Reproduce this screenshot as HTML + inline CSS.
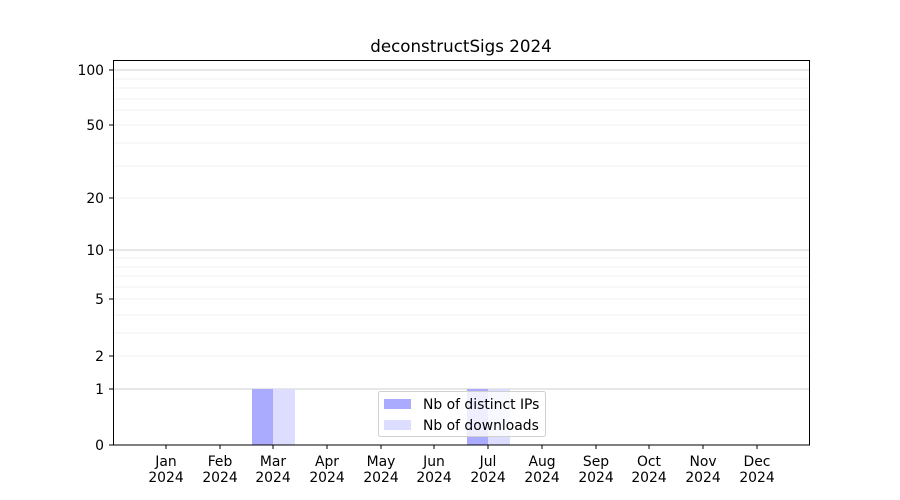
<!DOCTYPE html>
<html><head><meta charset="utf-8"><style>body{margin:0;background:#fff}svg{display:block}text{font-family:"DejaVu Sans","Liberation Sans",sans-serif;font-size:13.9px;fill:#000}</style></head><body>
<svg width="900" height="500" xmlns="http://www.w3.org/2000/svg">
<rect width="900" height="500" fill="#fff"/>
<g stroke="#ebebeb" stroke-width="0.8">
<line x1="113" x2="810" y1="333" y2="333"/><line x1="113" x2="810" y1="315" y2="315"/>
<line x1="113" x2="810" y1="287" y2="287"/><line x1="113" x2="810" y1="276" y2="276"/>
<line x1="113" x2="810" y1="267" y2="267"/><line x1="113" x2="810" y1="258" y2="258"/>
<line x1="113" x2="810" y1="166" y2="166"/><line x1="113" x2="810" y1="143" y2="143"/>
<line x1="113" x2="810" y1="110" y2="110"/><line x1="113" x2="810" y1="99" y2="99"/>
<line x1="113" x2="810" y1="88" y2="88"/><line x1="113" x2="810" y1="79" y2="79"/>
<line x1="113" x2="810" y1="356" y2="356"/><line x1="113" x2="810" y1="299" y2="299"/>
<line x1="113" x2="810" y1="198" y2="198"/><line x1="113" x2="810" y1="125" y2="125"/>
</g>
<g stroke="#cfcfcf" stroke-width="1">
<line x1="113" x2="810" y1="389" y2="389"/><line x1="113" x2="810" y1="250" y2="250"/><line x1="113" x2="810" y1="70" y2="70"/>
</g>
<rect x="252" y="389" width="21" height="56" fill="#aaaaff"/>
<rect x="273" y="389" width="22" height="56" fill="#ddddff"/>
<rect x="467" y="389" width="21" height="56" fill="#aaaaff"/>
<rect x="488" y="389" width="22" height="56" fill="#ddddff"/>
<rect x="113.5" y="60.5" width="696" height="384.5" fill="none" stroke="#000" stroke-width="1"/>
<text x="461" y="52" text-anchor="middle" style="font-size:16.7px">deconstructSigs 2024</text>
<g stroke="#000"><line x1="109" x2="113" y1="445" y2="445"/><line x1="109" x2="113" y1="389" y2="389"/><line x1="109" x2="113" y1="356" y2="356"/><line x1="109" x2="113" y1="299" y2="299"/><line x1="109" x2="113" y1="250" y2="250"/><line x1="109" x2="113" y1="198" y2="198"/><line x1="109" x2="113" y1="125" y2="125"/><line x1="109" x2="113" y1="70" y2="70"/></g>
<g text-anchor="end"><text x="104" y="450">0</text><text x="104" y="394">1</text><text x="104" y="361">2</text><text x="104" y="304">5</text><text x="104" y="255">10</text><text x="104" y="203">20</text><text x="104" y="130">50</text><text x="104" y="75">100</text></g>
<g stroke="#000">
<line x1="166" x2="166" y1="445" y2="449"/><line x1="220" x2="220" y1="445" y2="449"/><line x1="273" x2="273" y1="445" y2="449"/><line x1="327" x2="327" y1="445" y2="449"/><line x1="381" x2="381" y1="445" y2="449"/><line x1="434" x2="434" y1="445" y2="449"/><line x1="488" x2="488" y1="445" y2="449"/><line x1="542" x2="542" y1="445" y2="449"/><line x1="596" x2="596" y1="445" y2="449"/><line x1="649" x2="649" y1="445" y2="449"/><line x1="703" x2="703" y1="445" y2="449"/><line x1="757" x2="757" y1="445" y2="449"/>
</g>
<g text-anchor="middle">
<text x="166" y="466">Jan</text><text x="166" y="482">2024</text>
<text x="220" y="466">Feb</text><text x="220" y="482">2024</text>
<text x="273" y="466">Mar</text><text x="273" y="482">2024</text>
<text x="327" y="466">Apr</text><text x="327" y="482">2024</text>
<text x="381" y="466">May</text><text x="381" y="482">2024</text>
<text x="434" y="466">Jun</text><text x="434" y="482">2024</text>
<text x="488" y="466">Jul</text><text x="488" y="482">2024</text>
<text x="542" y="466">Aug</text><text x="542" y="482">2024</text>
<text x="596" y="466">Sep</text><text x="596" y="482">2024</text>
<text x="649" y="466">Oct</text><text x="649" y="482">2024</text>
<text x="703" y="466">Nov</text><text x="703" y="482">2024</text>
<text x="757" y="466">Dec</text><text x="757" y="482">2024</text>
</g>
<rect x="378.5" y="391.5" width="167" height="45" rx="2" fill="#fff" fill-opacity="0.8" stroke="#d0d0d0"/>
<rect x="384" y="399" width="27" height="10" fill="#aaaaff"/>
<rect x="384" y="420" width="27" height="10" fill="#ddddff"/>
<text x="423" y="409">Nb of distinct IPs</text>
<text x="423" y="430">Nb of downloads</text>
</svg>
</body></html>
